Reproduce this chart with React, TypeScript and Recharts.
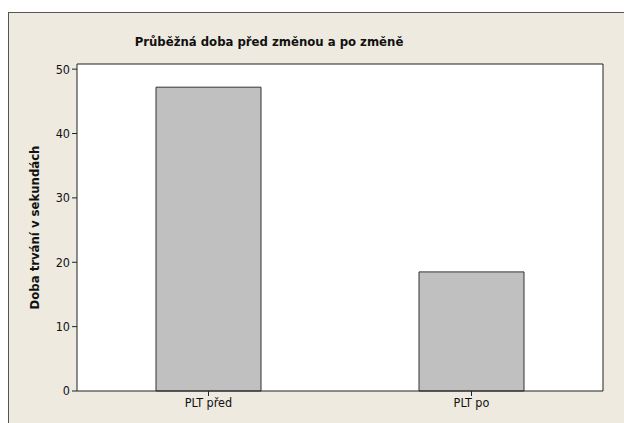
import React from "react";
import { BarChart, Bar, XAxis, YAxis, CartesianGrid } from "recharts";

const categories = ["PLT před", "PLT po"];
const durations = [47.2, 18.5];
const yTicks = [0, 10, 20, 30, 40, 50];
const title = "Průběžná doba před změnou a po změně";
const yLabel = "Doba trvání v sekundách";

const data = categories.map((c, i) => ({ name: c, value: durations[i] }));

const FONT = "'DejaVu Sans Condensed', 'DejaVu Sans', sans-serif";

export default function App() {
  return (
    <div style={{ position: "absolute", left: 0, top: 0, width: 624, height: 423, background: "#fff", overflow: "hidden", fontFamily: FONT }}>
      <div style={{ position: "absolute", left: 8, top: 12, width: 640, height: 440, background: "#eeeae0", border: "1px solid #555", boxSizing: "border-box" }} />
      <div style={{ position: "absolute", left: 0, top: 34, width: 538, textAlign: "center", fontWeight: "bold", fontSize: 13, color: "#111" }}>{title}</div>
      <div style={{ position: "absolute", left: 0, top: 0 }}>
        <BarChart width={624} height={423} data={data} margin={{ top: 63, right: 20, bottom: 2, left: 0 }} barSize={105}>
          <CartesianGrid horizontal={false} vertical={false} fill="#ffffff" />
          <XAxis dataKey="name" xAxisId="top" orientation="top" height={1} tick={false} tickLine={false} axisLine={{ stroke: "#222" }} />
          <YAxis yAxisId="right" orientation="right" width={1} tick={false} tickLine={false} axisLine={{ stroke: "#222" }} domain={[0, 50.8]} />
          <XAxis dataKey="name" height={30} axisLine={{ stroke: "#222" }} tickLine={{ stroke: "#222" }} tickSize={5} tick={{ fill: "#111", fontSize: 12.5, fontFamily: FONT }} />
          <YAxis
            width={77}
            domain={[0, 50.8]}
            ticks={yTicks}
            axisLine={{ stroke: "#222" }}
            tickLine={{ stroke: "#222" }}
            tickSize={5}
            tick={{ fill: "#111", fontSize: 12.5, fontFamily: FONT }}
            label={{ value: yLabel, angle: -90, position: "insideLeft", dx: 29, style: { textAnchor: "middle", fontWeight: "bold", fontSize: 13, fill: "#111", fontFamily: FONT } }}
          />
          <Bar dataKey="value" fill="#c0c0c0" stroke="#333" strokeWidth={1} isAnimationActive={false} />
        </BarChart>
      </div>
    </div>
  );
}
